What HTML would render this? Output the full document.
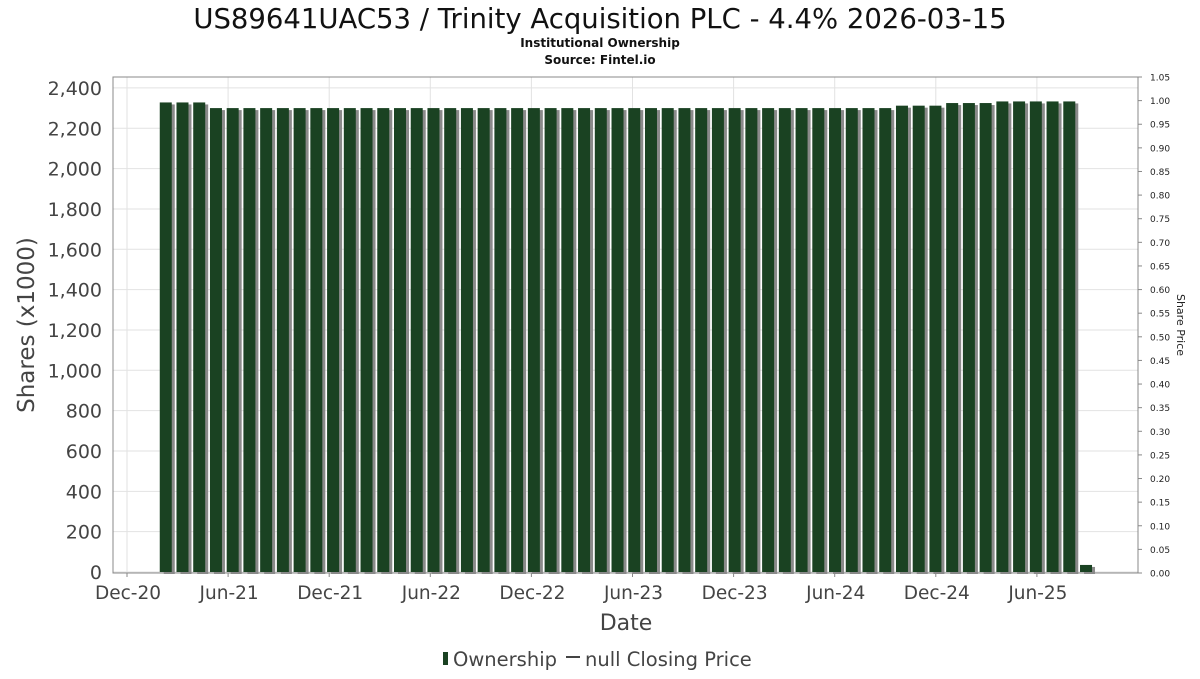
<!DOCTYPE html>
<html><head><meta charset="utf-8"><style>
body{margin:0;background:#fff;font-family:"DejaVu Sans","Liberation Sans",sans-serif}
svg text{font-family:"DejaVu Sans","Liberation Sans",sans-serif}
</style></head><body>
<svg id="c" width="1200" height="675" xmlns="http://www.w3.org/2000/svg">
<text x="600" y="28" text-anchor="middle" font-size="27.5" fill="#111">US89641UAC53 / Trinity Acquisition PLC - 4.4% 2026-03-15</text>
<text x="600" y="47" text-anchor="middle" font-size="12" font-weight="bold" fill="#111">Institutional Ownership</text>
<text x="600" y="64" text-anchor="middle" font-size="12" font-weight="bold" fill="#111">Source: Fintel.io</text>
<g id="grid"></g><g id="bars"></g>
<rect x="113" y="77" width="1025" height="496" fill="none" stroke="#888"/>
<g id="axes"></g>
<text transform="translate(34,325) rotate(-90)" text-anchor="middle" font-size="23" fill="#444">Shares (x1000)</text>
<text transform="translate(1177,325) rotate(90)" text-anchor="middle" font-size="11" fill="#222">Share Price</text>
<text x="626" y="630" text-anchor="middle" font-size="22" fill="#444">Date</text>
<g>
<rect x="443" y="652" width="5" height="13" fill="#1a4222"/>
<text x="453" y="666" font-size="19.5" fill="#444">Ownership</text>
<line x1="566" y1="657" x2="580" y2="657" stroke="#444" stroke-width="2"/>
<text x="585" y="666" font-size="19.5" fill="#444">null Closing Price</text>
</g>
</svg>
<script>
const yTicks=[0,200,400,600,800,1000,1200,1400,1600,1800,2000,2200,2400];
const rTicks=[0,0.05,0.10,0.15,0.20,0.25,0.30,0.35,0.40,0.45,0.50,0.55,0.60,0.65,0.70,0.75,0.80,0.85,0.90,0.95,1.00,1.05];
const xTickLabels=["Dec-20","Jun-21","Dec-21","Jun-22","Dec-22","Jun-23","Dec-23","Jun-24","Dec-24","Jun-25"];
const xTickMonths=[0,6,12,18,24,30,36,42,48,54];
const barMonths=[];for(let i=0;i<56;i++)barMonths.push(2.3+i*0.993);
const shares=[2328,2328,2328,
2300,2300,2300,2300,2300,2300,2300,2300,2300,2300,2300,2300,2300,2300,2300,2300,2300,2300,2300,2300,2300,2300,2300,2300,2300,2300,2300,2300,2300,2300,2300,2300,2300,2300,2300,2300,2300,2300,2300,2300,2300,
2312,2312,2312,2325,2325,2325,2333,2333,2333,2333,2333,35];
const NS="http://www.w3.org/2000/svg";
const y=v=>572-v*0.2017, yr=v=>573-v*(496/1.05), x=m=>127+m*16.85;
function mk(p,t,a){const e=document.createElementNS(NS,t);for(const k in a)e.setAttribute(k,a[k]);document.getElementById(p).appendChild(e);return e;}
yTicks.forEach(v=>{
 const g=mk('grid','line',{x1:113,x2:1138,y1:y(v),y2:y(v),stroke:'#e2e2e2'});
 
 
 const t=mk('axes','text',{x:102,y:y(v)+7,'text-anchor':'end','font-size':19,fill:'#444'});
 t.textContent=v.toLocaleString('en-US');
 
 
});
rTicks.forEach(v=>{
 mk('axes','line',{x1:1138,x2:1142,y1:yr(v),y2:yr(v),stroke:'#888'});
 const t=mk('axes','text',{x:1150,y:yr(v)+3.5,'font-size':9,fill:'#222'});
 t.textContent=v.toFixed(2);
 
 
});
xTickMonths.forEach((m,i)=>{
 const g=mk('grid','line',{x1:x(m),x2:x(m),y1:77,y2:573,stroke:'#e2e2e2'});
 
 
 mk('axes','line',{x1:x(m),x2:x(m),y1:573,y2:577,stroke:'#888'});
 const t=mk('axes','text',{x:x(m)+1,y:599,'text-anchor':'middle','font-size':18.5,fill:'#444'});
 t.textContent=xTickLabels[i];
 
 
});
shares.forEach((v,i)=>{
 const cx=x(barMonths[i]);
 mk('bars','rect',{x:cx-5+3,y:y(v)+2,width:11,height:572-y(v),fill:'#8a8a8a'});
 const b=mk('bars','rect',{x:cx-6,y:y(v),width:12,height:572-y(v),fill:'#1a4222'});
 
 
});
</script>
</body></html>
